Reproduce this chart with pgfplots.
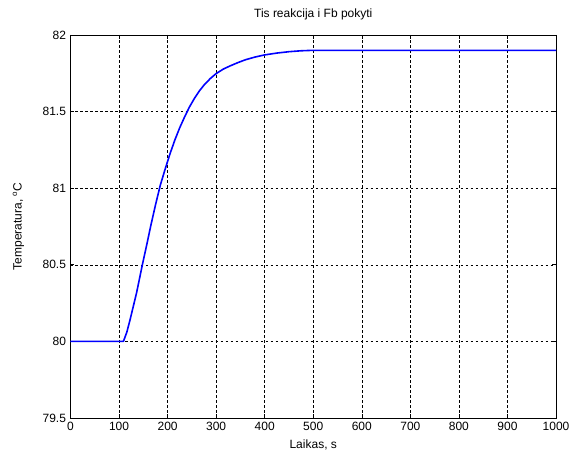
\documentclass[border=0pt]{standalone}
\usepackage{fontspec}
\setmainfont{Liberation Sans}
\usepackage{pgfplots}
\pgfplotsset{compat=1.18}
\begin{document}
\begin{tikzpicture}
\path[use as bounding box] (-70.5pt,-39pt) rectangle (502.5pt,418pt);
\begin{axis}[
  at={(0pt,0pt)}, anchor=south west,
  scale only axis,
  width=485.5pt, height=383pt,
  xmin=0, xmax=1000, ymin=79.5, ymax=82,
  xtick={0,100,...,1000},
  ytick={79.5,80,80.5,81,81.5,82},
  yticklabels={79.5,80,80.5,81,81.5,82},
  /pgf/number format/assume math mode=true,
  /pgf/number format/1000 sep={},
  tick label style={font=\fontsize{12}{14}\selectfont, /pgf/number format/fixed},
  xticklabel style={yshift=-1pt},
  yticklabel style={xshift=-1pt},
  grid=major,
  major grid style={black, line width=0.5pt, dash pattern=on 2.5pt off 2.5pt},
  tick style={black, line width=0.6pt},
  major tick length=4pt,
  axis line style={black, line width=0.6pt},
  title={Tis reakcija i Fb pokyti},
  title style={font=\fontsize{12}{14}\selectfont, at={(axis description cs:0.5,1)}, anchor=south, yshift=5pt},
  xlabel={Laikas, s},
  xlabel style={font=\fontsize{12}{14}\selectfont, at={(axis description cs:0.5,0)}, anchor=center, yshift=-27pt},
  ylabel={Temperatura, \textsuperscript{o}C},
  ylabel style={font=\fontsize{12}{14}\selectfont, at={(axis description cs:0,0.5)}, anchor=center, yshift=52pt},
]
% temperature response to the feed step
\addplot[color={rgb,255:red,0;green,0;blue,255}, line width=1.6pt, line join=round] coordinates {
  (0,80) (109,80) (116,80.06) (122.6,80.14) (136.3,80.32) (148,80.5)
  (157,80.63) (165,80.75) (175,80.89) (185,81.02) (195,81.125) (205,81.225)
  (215,81.315) (225,81.395) (235,81.465) (245,81.53) (255,81.585) (265,81.633)
  (275,81.673) (288,81.716) (300,81.748) (315,81.778) (330,81.80) (345,81.82)
  (360,81.838) (380,81.856) (400,81.87) (425,81.882) (450,81.891) (475,81.897)
  (500,81.9) (1000,81.9)
};
\end{axis}
\end{tikzpicture}
\end{document}
